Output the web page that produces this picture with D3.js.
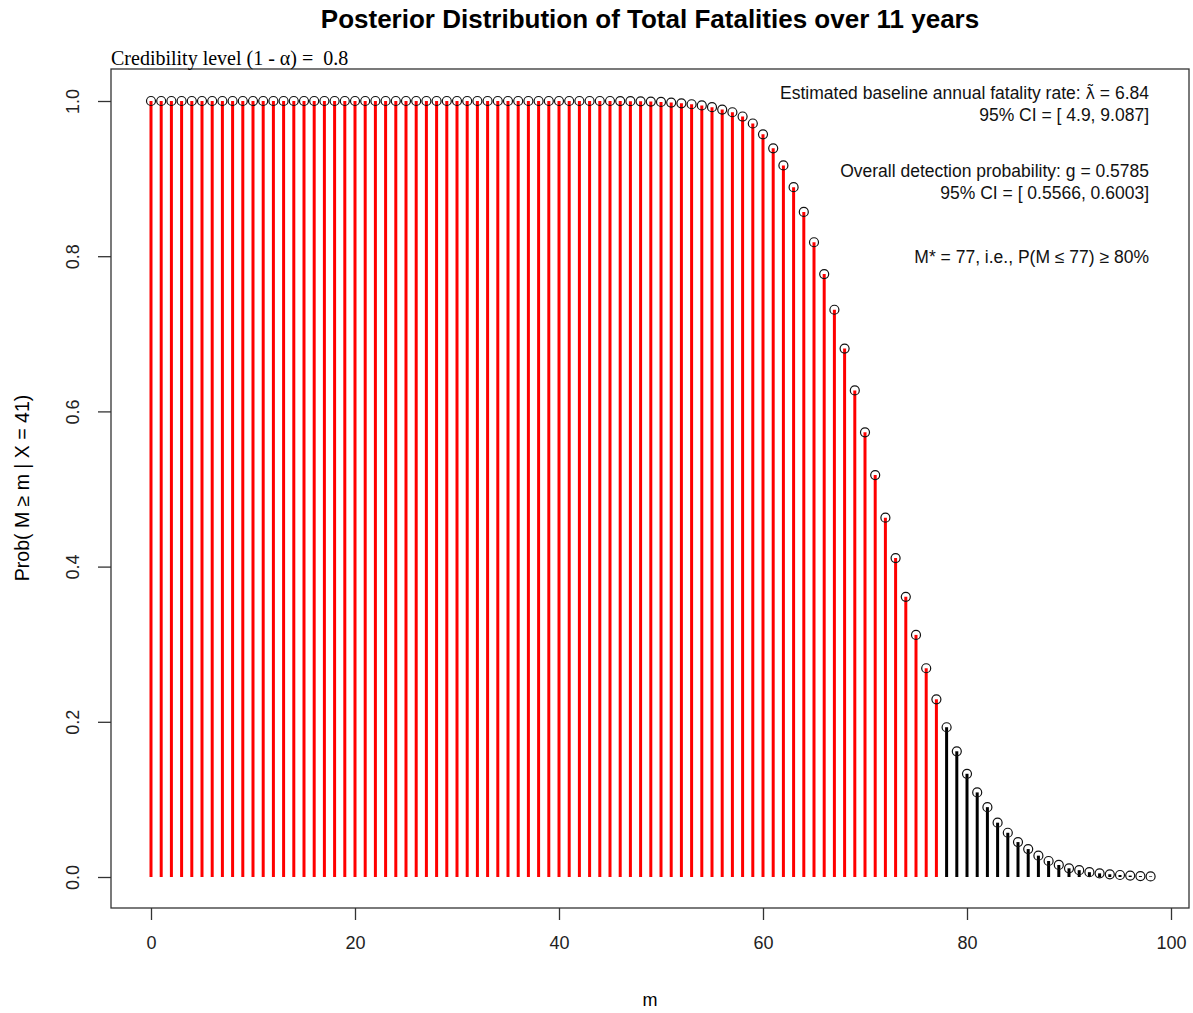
<!DOCTYPE html>
<html>
<head>
<meta charset="utf-8">
<script src="https://cdn.jsdelivr.net/npm/d3@7"></script>
<style>
  body { margin: 0; background: #fff; }
  svg { display: block; }
</style>
</head>
<body>
<svg id="chart" width="1193" height="1013"></svg>
<script>
// Posterior tail probabilities P(M >= m | X = 41), m = 0..98
const mValues = d3.range(0, 99);
const tailProb = [
  1.000, 1.000, 1.000, 1.000, 1.000, 1.000, 1.000, 1.000, 1.000, 1.000,
  1.000, 1.000, 1.000, 1.000, 1.000, 1.000, 1.000, 1.000, 1.000, 1.000,
  1.000, 1.000, 1.000, 1.000, 1.000, 1.000, 1.000, 1.000, 1.000, 1.000,
  1.000, 1.000, 1.000, 1.000, 1.000, 1.000, 1.000, 1.000, 1.000, 1.000,
  1.000, 1.000, 1.000, 1.000, 1.000, 1.000, 0.9999, 0.9998, 0.9996, 0.9993,
  0.9988, 0.998, 0.997, 0.9958, 0.9943, 0.992, 0.989, 0.9855, 0.980, 0.971,
  0.957, 0.939, 0.917, 0.889, 0.857, 0.818, 0.777, 0.731, 0.681, 0.627,
  0.573, 0.518, 0.463, 0.411, 0.361, 0.312, 0.269, 0.229, 0.193, 0.162,
  0.133, 0.109, 0.090, 0.070, 0.057, 0.045, 0.036, 0.0275, 0.0206, 0.0155,
  0.0112, 0.0088, 0.0062, 0.0047, 0.0035, 0.0026, 0.0018, 0.0012, 0.0008
];
const mStar = 77;             // credible bound: m <= mStar drawn in red
const xTicks = [0, 20, 40, 60, 80, 100];
const yTicks = [0.0, 0.2, 0.4, 0.6, 0.8, 1.0];
const titleText = "Posterior Distribution of Total Fatalities over 11 years";
const subtitleText = "Credibility level (1 - \u03b1) =  0.8";
const noteLines = [
  ["Estimated baseline annual fatality rate: ", "\u03bb\u0303", " = 6.84"],
  ["95% CI = [ 4.9, 9.087]"],
  ["Overall detection probability: g = 0.5785"],
  ["95% CI = [ 0.5566, 0.6003]"],
  ["M* = 77, i.e., P(M \u2264 77) \u2265 80%"]
];
const noteOffsets = [0, 22, 78, 100, 164];

const sans = "Arial, 'Liberation Sans', sans-serif";
const svg = d3.select("#chart");
const box = { left: 111, right: 1189, top: 69, bottom: 908 };

const x = d3.scaleLinear().domain([0, 100]).range([151, 1171]);
const y = d3.scaleLinear().domain([0, 1]).range([877, 101]);

// plot frame
svg.append("rect")
  .attr("x", box.left).attr("y", box.top)
  .attr("width", box.right - box.left).attr("height", box.bottom - box.top)
  .attr("fill", "none").attr("stroke", "#333").attr("stroke-width", 1.3);

// x axis
const xAxis = svg.append("g")
  .attr("transform", `translate(0,${box.bottom})`)
  .call(d3.axisBottom(x).tickValues(xTicks).tickSize(12).tickPadding(16).tickFormat(d3.format("d")));
xAxis.select(".domain").remove();
xAxis.selectAll("line").attr("stroke", "#333").attr("stroke-width", 1.3);
xAxis.selectAll("text").attr("font-family", sans)
  .attr("font-size", 18).attr("fill", "#222");

// y axis with rotated labels
const yAxis = svg.append("g")
  .attr("transform", `translate(${box.left},0)`)
  .call(d3.axisLeft(y).tickValues(yTicks).tickSize(13).tickFormat(d3.format(".1f")));
yAxis.select(".domain").remove();
yAxis.selectAll("line").attr("stroke", "#333").attr("stroke-width", 1.3);
yAxis.selectAll("text")
  .attr("font-family", sans)
  .attr("font-size", 18).attr("fill", "#222")
  .attr("x", null).attr("dy", null)
  .attr("text-anchor", "middle")
  .attr("transform", "translate(-38,0) rotate(-90)")
  .attr("y", 6);

// vertical probability lines
svg.append("g").selectAll("line")
  .data(mValues)
  .join("line")
  .attr("x1", d => x(d)).attr("x2", d => x(d))
  .attr("y1", y(0)).attr("y2", d => y(tailProb[d]))
  .attr("stroke", d => d <= mStar ? "#ff0000" : "#000")
  .attr("stroke-width", 3);

// open circle markers
svg.append("g").selectAll("circle")
  .data(mValues)
  .join("circle")
  .attr("cx", d => x(d)).attr("cy", d => y(tailProb[d]))
  .attr("r", 4.5)
  .attr("fill", "none").attr("stroke", "#111").attr("stroke-width", 1.2);

// title
svg.append("text")
  .attr("x", 650).attr("y", 28)
  .attr("text-anchor", "middle")
  .attr("font-family", sans)
  .attr("font-weight", "bold").attr("font-size", 26)
  .text(titleText);

// subtitle
svg.append("text")
  .attr("x", 111).attr("y", 65)
  .attr("font-family", "'Times New Roman', 'Liberation Serif', serif")
  .attr("font-size", 20)
  .style("white-space", "pre")
  .text(subtitleText);

// annotations
const notes = svg.append("g").selectAll("text")
  .data(noteLines)
  .join("text")
  .attr("x", 1149)
  .attr("y", (d, i) => 99 + noteOffsets[i])
  .attr("text-anchor", "end")
  .attr("font-family", sans)
  .attr("font-size", 17.5).attr("fill", "#111")
  .style("white-space", "pre");
notes.selectAll("tspan")
  .data(d => d)
  .join("tspan")
  .attr("font-family", (d, i) => i === 1 ? "'DejaVu Sans', sans-serif" : null)
  .attr("font-size", (d, i) => i === 1 ? 16 : null)
  .text(d => d);

// axis titles
svg.append("text")
  .attr("x", 650).attr("y", 1006)
  .attr("text-anchor", "middle")
  .attr("font-family", sans)
  .attr("font-size", 18)
  .text("m");

svg.append("text")
  .attr("transform", "translate(29,488) rotate(-90)")
  .attr("text-anchor", "middle")
  .attr("font-family", sans)
  .attr("font-size", 19.5)
  .text("Prob( M \u2265 m | X = 41)");
</script>
</body>
</html>
